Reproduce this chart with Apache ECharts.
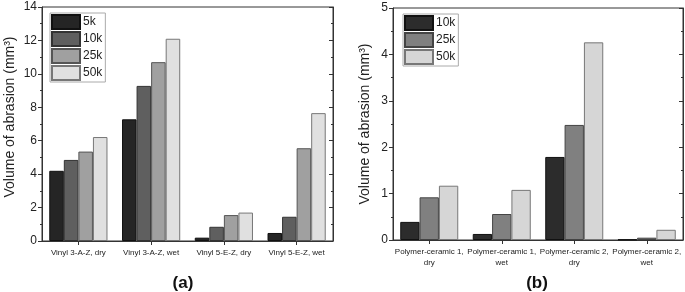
<!DOCTYPE html>
<html>
<head>
<meta charset="utf-8">
<script src="https://cdn.jsdelivr.net/npm/echarts@6/dist/echarts.min.js"></script>
<style>
html, body { margin: 0; padding: 0; background: #fff; }
#chart { width: 685px; height: 292px; }
</style>
</head>
<body>
<div id="chart"></div>
<script>
// panel (a)
let catsA = ['Vinyl 3-A-Z, dry', 'Vinyl 3-A-Z, wet', 'Vinyl 5-E-Z, dry', 'Vinyl 5-E-Z, wet'];
let namesA = ['5k', '10k', '25k', '50k'];
let a5k = [4.2, 7.28, 0.2, 0.48];
let a10k = [4.85, 9.28, 0.85, 1.45];
let a25k = [5.35, 10.7, 1.55, 5.55];
let a50k = [6.22, 12.1, 1.7, 7.65];

// panel (b)
let catsB = ['Polymer-ceramic 1,\ndry', 'Polymer-ceramic 1,\nwet', 'Polymer-ceramic 2,\ndry', 'Polymer-ceramic 2,\nwet'];
let namesB = ['10k', '25k', '50k'];
let b10k = [0.39, 0.13, 1.79, 0.01];
let b25k = [0.92, 0.56, 2.48, 0.05];
let b50k = [1.17, 1.08, 4.26, 0.22];

let colorsA = ['#252525', '#5f5f5f', '#a0a0a0', '#e0e0e0'];
let bordersA = ['#111', '#333', '#555', '#777'];
let colorsB = ['#2c2c2c', '#808080', '#d6d6d6'];
let bordersB = ['#111', '#444', '#777'];

let font = 'Liberation Sans, Arial, sans-serif';
let yName = 'Volume of abrasion (mm\u00b3)';

function leftAxis(gridIndex, max, interval, nameGap, shiftUp) {
    return {
        type: 'value', gridIndex: gridIndex, min: 0, max: max, interval: interval,
        name: yName, nameLocation: 'middle', nameGap: nameGap, nameRotate: 90,
        nameTextStyle: { fontFamily: font, fontSize: 14, color: '#222', padding: [0, 0, 0, shiftUp] },
        axisLine: { show: true, lineStyle: { color: '#333' } },
        axisTick: { show: true, inside: false, length: 4, lineStyle: { color: '#333' } },
        minorTick: { show: true, splitNumber: 2, length: 2, lineStyle: { color: '#333' } },
        axisLabel: { fontFamily: font, fontSize: 12, color: '#222', margin: 5 },
        splitLine: { show: false }
    };
}
function rightAxis(gridIndex, max, interval) {
    return {
        type: 'value', gridIndex: gridIndex, position: 'right', min: 0, max: max, interval: interval,
        axisLine: { show: true, lineStyle: { color: '#333' } },
        axisTick: { show: true, inside: true, length: 4, lineStyle: { color: '#333' } },
        minorTick: { show: true, splitNumber: 2, length: 2, lineStyle: { color: '#333' } },
        axisLabel: { show: false },
        splitLine: { show: false }
    };
}
function catAxis(gridIndex, data) {
    return {
        type: 'category', gridIndex: gridIndex, data: data,
        axisLine: { show: true, lineStyle: { color: '#333' } },
        axisTick: { show: true, alignWithLabel: true, length: 4, lineStyle: { color: '#333' } },
        axisLabel: { interval: 0, fontFamily: font, fontSize: 8, color: '#222', margin: 6, lineHeight: 11 }
    };
}

let series = [];
[a5k, a10k, a25k, a50k].forEach((vals, i) => {
    series.push({
        name: namesA[i], type: 'bar', xAxisIndex: 0, yAxisIndex: 0, data: vals,
        barGap: '0%', barCategoryGap: '20%',
        itemStyle: { color: colorsA[i], borderColor: bordersA[i], borderWidth: 1 }
    });
});
[b10k, b25k, b50k].forEach((vals, i) => {
    series.push({
        name: 'b' + namesB[i], type: 'bar', xAxisIndex: 1, yAxisIndex: 2, data: vals,
        barGap: '0%', barCategoryGap: '20%',
        itemStyle: { color: colorsB[i], borderColor: bordersB[i], borderWidth: 1 }
    });
});

let legendBase = {
    orient: 'vertical', itemWidth: 28, itemHeight: 14, itemGap: 1, padding: [1, 3, 1, 1],
    borderColor: '#aaa', borderWidth: 1, icon: 'rect',
    textStyle: { fontFamily: font, fontSize: 12, color: '#222', padding: [0, 0, 0, -2] }
};

let option = {
    animation: false,
    title: [
        { text: '(a)', left: 178, top: 270, textAlign: 'center',
          textStyle: { fontFamily: font, fontSize: 17, fontWeight: 'bold', color: '#111' } },
        { text: '(b)', left: 532, top: 270, textAlign: 'center',
          textStyle: { fontFamily: font, fontSize: 17, fontWeight: 'bold', color: '#111' } }
    ],
    legend: [
        Object.assign({}, legendBase, { left: 50, top: 13, data: namesA }),
        Object.assign({}, legendBase, { left: 403, top: 14, data: namesB.map(n => 'b' + n),
            formatter: name => name.replace(/^b/, '') })
    ],
    grid: [
        { left: 42, top: 7, width: 291, height: 234, show: true, borderColor: '#333', borderWidth: 1 },
        { left: 393, top: 8, width: 290, height: 232, show: true, borderColor: '#333', borderWidth: 1 }
    ],
    xAxis: [catAxis(0, catsA), catAxis(1, catsB)],
    yAxis: [
        leftAxis(0, 14, 2, 25, 14), rightAxis(0, 14, 2),
        leftAxis(1, 5, 1, 21, 0), rightAxis(1, 5, 1)
    ],
    series: series
};

let chart = echarts.init(document.getElementById('chart'));
chart.setOption(option);
</script>
</body>
</html>
